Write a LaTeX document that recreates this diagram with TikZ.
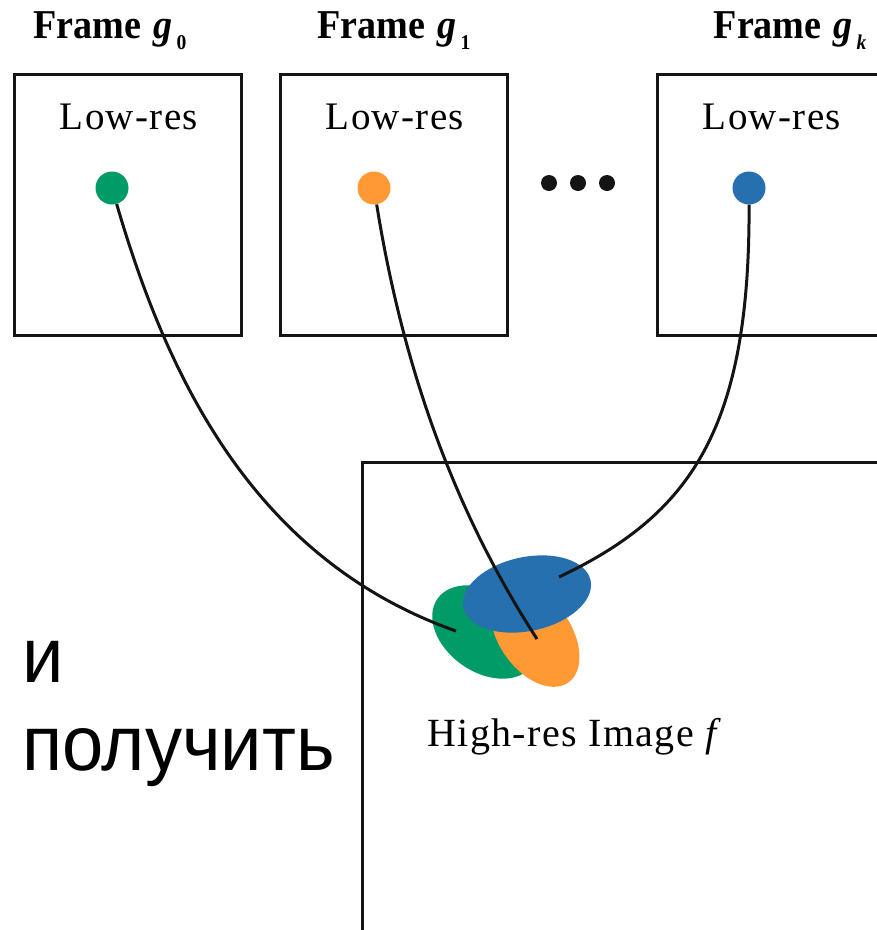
\documentclass[tikz,border=0pt]{standalone}
\usepackage{fontspec}
\setmainfont{Liberation Serif}
\newfontfamily\ruSans{Liberation Sans}
\newfontfamily\spacedSerif[LetterSpace=3.5]{Liberation Serif}
\definecolor{cgreen}{RGB}{0,155,102}
\definecolor{corange}{RGB}{255,153,51}
\definecolor{cblue}{RGB}{38,112,176}
\definecolor{cline}{RGB}{20,20,20}
\newcommand{\frameTitle}[1]{\scalebox{0.93}[1]{Frame\hspace{13pt}\textit{g}\hspace{4pt}\raisebox{-11pt}{\fontsize{21}{21}\selectfont #1}}}
\tikzset{
  framebox/.style={draw=cline, line width=3pt},
  link/.style={draw=cline, line width=3pt},
  pix/.style={circle, inner sep=0pt, minimum size=33pt},
  ttl/.style={anchor=base, inner sep=0pt, font=\fontsize{41}{43}\selectfont\bfseries},
  lowres/.style={anchor=base, inner sep=0pt, font=\spacedSerif\fontsize{39}{42}\selectfont},
  rutext/.style={anchor=base west, inner sep=0pt, font=\ruSans\fontsize{78}{84}\selectfont, xscale=0.95},
  dotmark/.style={circle, fill=cline, inner sep=0pt, minimum size=16pt},
}
\begin{document}
\begin{tikzpicture}[x=1pt,y=-1pt]
\useasboundingbox (0,0) rectangle (877,930);
% frames
\draw[framebox] (14,74) rectangle (241,335);
\draw[framebox] (280,74) rectangle (507,335);
\draw[framebox] (890,74) -- (657,74) -- (657,335) -- (890,335);
\draw[framebox] (362,940) -- (362,462) -- (890,462);
% titles
\node[ttl] (t0) at (110,38) {\frameTitle{0}};
\node[ttl] (t1) at (394,38) {\frameTitle{1}};
\node[ttl] (tk) at (790,38) {\frameTitle{\textit{k}}};
\node[lowres] (l0) at (129,129) {Low-res};
\node[lowres] (l1) at (395,129) {Low-res};
\node[lowres] (lk) at (772,129) {Low-res};
% pixels
\node[pix, fill=cgreen] (p0) at (112,188) {};
\node[pix, fill=corange] (p1) at (374,188) {};
\node[pix, fill=cblue] (pk) at (749,188) {};
\node[dotmark] (d1) at (549,183) {};
\node[dotmark] (d2) at (578,183) {};
\node[dotmark] (d3) at (607,183) {};
% high-res footprints
\fill[cgreen, rotate around={-35:(485,632)}] (485,632) ellipse [x radius=58, y radius=40];
\fill[corange, rotate around={-55:(535,635)}] (535,635) ellipse [x radius=58, y radius=36];
\fill[cblue, rotate around={12:(527,594)}] (527,594) ellipse [x radius=65, y radius=37];
\coordinate (e0) at (456,631);
\coordinate (e1) at (537,639);
\coordinate (ek) at (559,577);
% links
\draw[link] (p0) .. controls (168,380) and (255,560) .. (e0);
\draw[link] (p1) .. controls (405,380) and (460,520) .. (e1);
\draw[link] (pk) .. controls (750,430) and (690,515) .. (ek);
% labels
\node[lowres, font=\spacedSerif\fontsize{40}{42}\selectfont] (hr) at (575,746) {High-res Image \textit{f}};
\node[rutext] (ru1) at (22,682) {и};
\node[rutext] (ru2) at (22,770) {получить};
\end{tikzpicture}
\end{document}
